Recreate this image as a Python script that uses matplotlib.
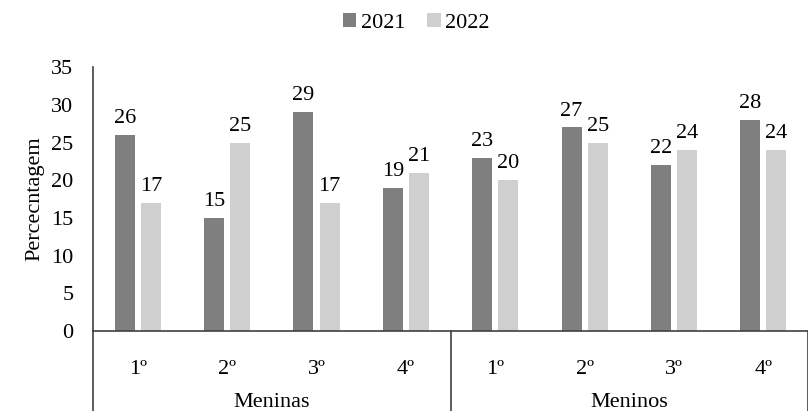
import matplotlib.pyplot as plt
import numpy as np
from matplotlib.transforms import blended_transform_factory

plt.rcParams['font.family'] = ['Liberation Serif', 'DejaVu Serif']

grupos = ['Meninas', 'Meninos']
anos = ['1º', '2º', '3º', '4º']
serie_2021 = [26, 15, 29, 19, 23, 27, 22, 28]
serie_2022 = [17, 25, 17, 21, 20, 25, 24, 24]

cor_2021 = '#7f7f7f'
cor_2022 = '#d0cfcf'
cor_eixo = '#404040'
tam = 16

fig = plt.figure(figsize=(8.08, 4.11), dpi=100)
ax = fig.add_axes([0.1151, 0.1946, 0.885, 0.642])

x = np.arange(len(serie_2021))
largura = 0.224
desvio = 0.146
b1 = ax.bar(x - desvio, serie_2021, largura, color=cor_2021, label='2021')
b2 = ax.bar(x + desvio, serie_2022, largura, color=cor_2022, label='2022')

for barras, valores in ((b1, serie_2021), (b2, serie_2022)):
    for barra, v in zip(barras, valores):
        ax.annotate(str(v), (barra.get_x() + barra.get_width() / 2, v),
                    xytext=(0, 5), textcoords='offset points',
                    ha='center', va='bottom', fontsize=tam)

ax.set_xlim(-0.5, len(x) - 0.5)
ax.set_ylim(0, 35)
ax.set_yticks(range(0, 36, 5))
ax.tick_params(axis='y', length=0, labelsize=tam, pad=14)
ax.set_xticks(x)
ax.set_xticklabels(anos * len(grupos), fontsize=tam)
ax.tick_params(axis='x', length=0, pad=21)
ax.set_ylabel('Percecntagem', fontsize=tam, labelpad=5)

for lado in ('top', 'right'):
    ax.spines[lado].set_visible(False)
for lado in ('left', 'bottom'):
    ax.spines[lado].set_color(cor_eixo)
    ax.spines[lado].set_linewidth(1.2)

# segundo nível do eixo de categorias
trans = blended_transform_factory(ax.transData, ax.transAxes)
for xs in (-0.5, 3.5, 7.5):
    ax.plot([xs, xs], [0, -0.31], color=cor_eixo, lw=1.2,
            transform=trans, clip_on=False)
for i, g in enumerate(grupos):
    ax.text(i * 4 + 1.5, -0.27, g, transform=trans, ha='center',
            va='center', fontsize=tam)

fig.legend(handles=[b1, b2], loc='center', bbox_to_anchor=(0.515, 0.945),
           ncol=2, frameon=False, fontsize=tam, handlelength=0.6,
           handleheight=0.6, handletextpad=0.2, columnspacing=1.0)

fig.savefig('out.png', dpi=100)
